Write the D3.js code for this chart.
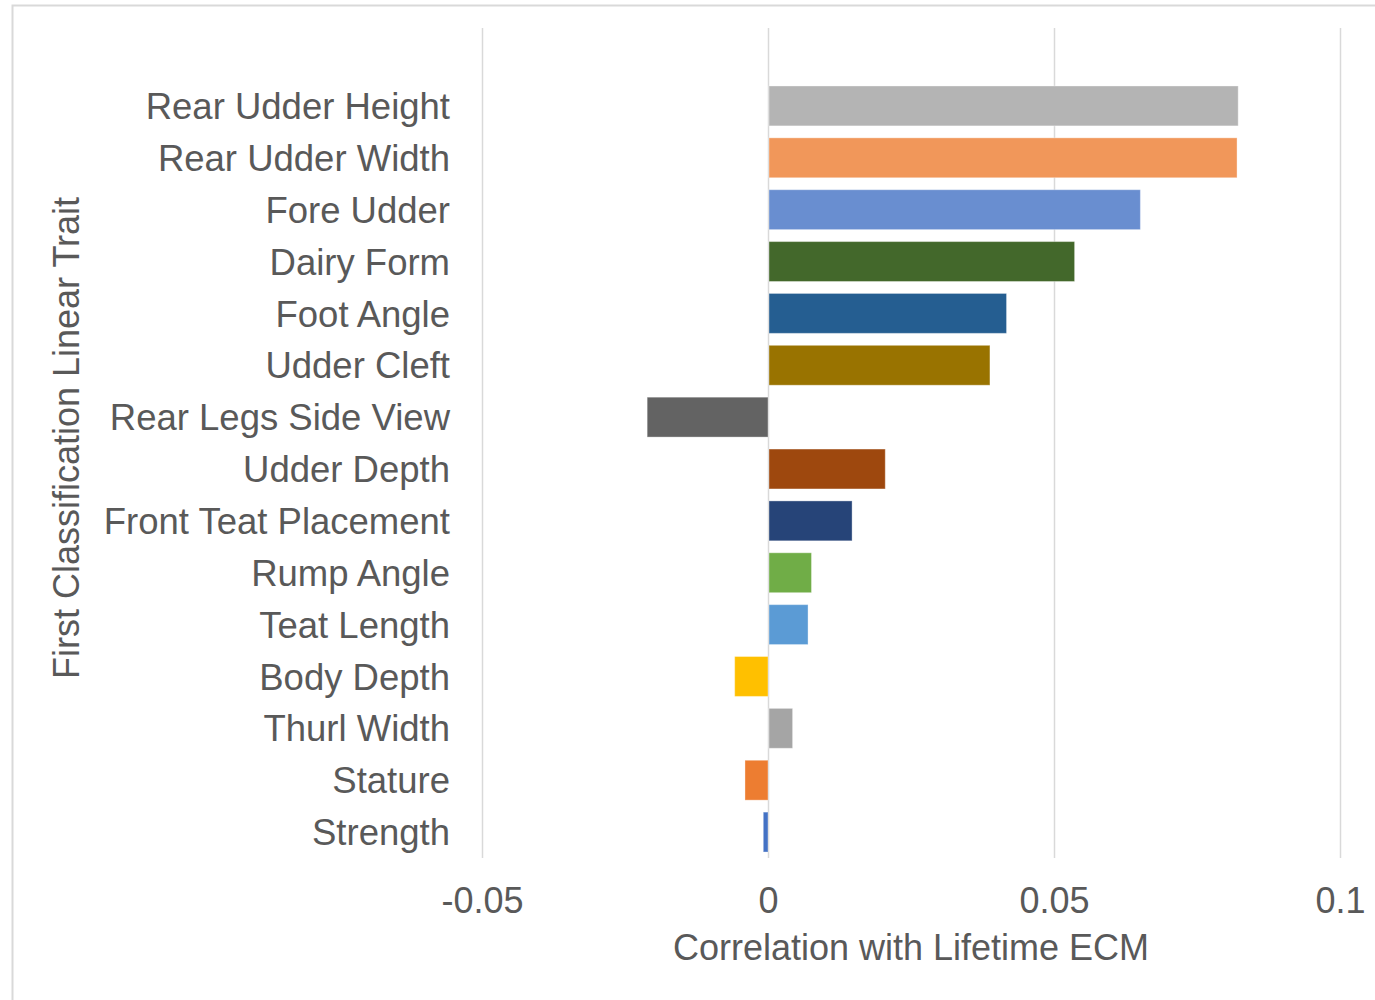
<!DOCTYPE html>
<html>
<head>
<meta charset="utf-8">
<script src="https://cdn.jsdelivr.net/npm/d3@7"></script>
<style>
  html, body { margin: 0; padding: 0; background: #fff; }
  text { font-family: "Liberation Sans", Arial, sans-serif; fill: #595959; }
</style>
</head>
<body>
<svg id="chart" width="1375" height="1000"></svg>
<script>
const categories = ["Rear Udder Height", "Rear Udder Width", "Fore Udder", "Dairy Form", "Foot Angle",
  "Udder Cleft", "Rear Legs Side View", "Udder Depth", "Front Teat Placement", "Rump Angle",
  "Teat Length", "Body Depth", "Thurl Width", "Stature", "Strength"];
const values = [0.0822, 0.0820, 0.0651, 0.0536, 0.0417, 0.0388, -0.0213, 0.0205, 0.0147, 0.0076,
  0.0070, -0.0060, 0.0043, -0.0042, -0.0010];
const colors = ["#B4B4B4", "#F1975A", "#698ED0", "#43682B", "#255E91", "#997300", "#636363", "#9E480E",
  "#264478", "#70AD47", "#5B9BD5", "#FFC000", "#A5A5A5", "#ED7D31", "#4472C4"];
const xTicks = [-0.05, 0, 0.05, 0.1];
const xTickLabels = ["-0.05", "0", "0.05", "0.1"];
const xTitle = "Correlation with Lifetime ECM";
const yTitle = "First Classification Linear Trait";

const svg = d3.select("#chart");

// outer chart frame
svg.append("rect").attr("x", 12.5).attr("y", 5.5).attr("width", 1400).attr("height", 1100)
  .attr("fill", "none").attr("stroke", "#d9d9d9").attr("stroke-width", 2);

const x = d3.scaleLinear().domain([-0.05, 0.1]).range([482, 1340]);
const y = d3.scaleBand().domain(categories).range([80, 858])
  .paddingInner(12 / 52).paddingOuter(6 / 52);

const gridTop = 28, gridBottom = 858;

// gridlines
svg.append("g").selectAll("line").data(xTicks).join("line")
  .attr("x1", d => x(d) + 0.5).attr("x2", d => x(d) + 0.5)
  .attr("y1", gridTop).attr("y2", gridBottom)
  .attr("stroke", "#d9d9d9").attr("stroke-width", 1.5);

// bars
svg.append("g").selectAll("rect").data(categories).join("rect")
  .attr("x", (d, i) => Math.min(x(0), x(values[i])) + 1)
  .attr("width", (d, i) => Math.max(1, Math.abs(x(values[i]) - x(0)) - 1))
  .attr("y", d => y(d))
  .attr("height", y.bandwidth())
  .attr("fill", (d, i) => colors[i])
  .attr("stroke", "rgba(255,255,255,0.35)")
  .attr("stroke-width", 1);

// x axis tick labels
const xAxis = d3.axisBottom(x).tickValues(xTicks)
  .tickFormat((d, i) => xTickLabels[i]).tickSize(0).tickPadding(0);
const gx = svg.append("g").attr("transform", `translate(0, ${gridBottom})`).call(xAxis);
gx.select(".domain").remove();
gx.selectAll("text").attr("font-size", 36).attr("dy", null).attr("y", 55)
  .style("font-family", "'Liberation Sans', Arial, sans-serif").attr("fill", "#595959");

// y axis category labels
const yAxis = d3.axisLeft(y).tickSize(0).tickPadding(0);
const gy = svg.append("g").attr("transform", "translate(450, 0)").call(yAxis);
gy.select(".domain").remove();
gy.selectAll("text").attr("font-size", 36.5).attr("x", 0).attr("dy", "0.36em")
  .style("font-family", "'Liberation Sans', Arial, sans-serif").attr("fill", "#595959");

// axis titles
svg.append("text").attr("x", 911).attr("y", 960).attr("text-anchor", "middle")
  .attr("font-size", 36).text(xTitle);
svg.append("text").attr("transform", "translate(79, 438) rotate(-90)")
  .attr("text-anchor", "middle").attr("font-size", 36).text(yTitle);
</script>
</body>
</html>
